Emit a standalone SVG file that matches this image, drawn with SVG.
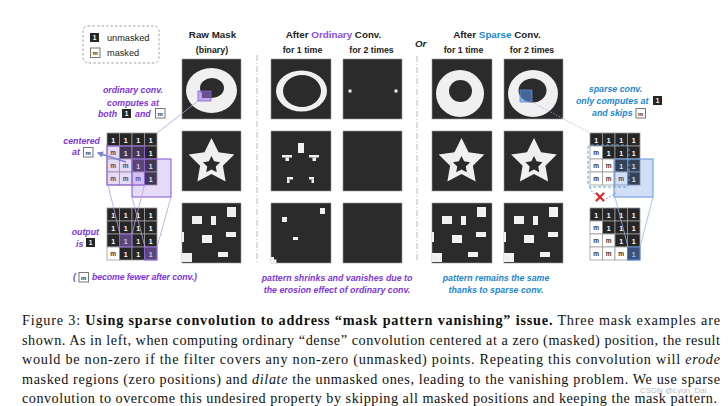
<svg xmlns="http://www.w3.org/2000/svg" xmlns:xlink="http://www.w3.org/1999/xlink" width="728" height="406" viewBox="0 0 728 406">
<style>
.hdr{font-family:"Liberation Sans",Arial,sans-serif;font-weight:bold;font-size:9.8px;fill:#222;text-anchor:middle}
.sub{font-family:"Liberation Sans",Arial,sans-serif;font-weight:bold;font-size:8.8px;fill:#222;text-anchor:middle}
.pl{font-family:"Liberation Sans",Arial,sans-serif;font-style:italic;font-weight:bold;font-size:8.8px;fill:#7b36d9}
.bl{font-family:"Liberation Sans",Arial,sans-serif;font-style:italic;font-weight:bold;font-size:8.8px;fill:#1a86d0}
.leg{font-family:"Liberation Sans",Arial,sans-serif;font-size:9.2px;fill:#222}
.cap{font-family:"Liberation Serif","Times New Roman",serif;font-size:14.2px;fill:#111}
.c1t{font-family:"Liberation Sans",Arial,sans-serif;font-weight:bold;font-size:7px;fill:#fff;text-anchor:middle}
.cmt{font-family:"Liberation Sans",Arial,sans-serif;font-weight:bold;font-size:6.5px;fill:#333;text-anchor:middle}
.panel{fill:#2b2b2b;stroke:#9a9a9a;stroke-width:0.6}
.mask{fill:#f0f0f0}
.dark{fill:#2b2b2b}
.sep{stroke:#bdbdbd;stroke-width:1;stroke-dasharray:6 2 1 2;fill:none}
.pline{stroke:#b89ee9;stroke-width:0.8;fill:none}
.bline{stroke:#93b8ec;stroke-width:0.8;fill:none}
.pov{fill:#9a70e0;fill-opacity:0.25;stroke:#8b5fd6;stroke-width:1.1}
.bov{fill:#5a8de0;fill-opacity:0.28;stroke:#6b9de0;stroke-width:1.1}
</style>
<defs>
<g id="c1"><rect width="12.5" height="13" fill="#262626" stroke="#9a9a9a" stroke-width="0.8"/><text x="6.25" y="9.6" class="c1t">1</text></g>
<g id="cm"><rect width="12.5" height="13" fill="#ffffff" stroke="#9a9a9a" stroke-width="0.8"/><text x="6.25" y="9.2" class="cmt">m</text></g>
<g id="i1"><rect width="9" height="9" fill="#262626"/><text x="4.5" y="7.3" class="c1t" style="font-size:6.5px">1</text></g>
<g id="im"><rect x="0.5" y="0.5" width="9.5" height="9.5" fill="#fff" stroke="#777" stroke-width="1"/><text x="5.25" y="7.6" class="cmt" style="font-size:6px">m</text></g>
<path id="star" class="mask" fill-rule="evenodd" d="M0,-24 L7.06,-9.71 L22.82,-7.42 L11.41,3.71 L14.11,19.42 L0,12 L-14.11,19.42 L-11.41,3.71 L-22.82,-7.42 L-7.06,-9.71 Z M0,-6 L2.65,-0.64 L8.56,0.22 L4.28,4.39 L5.29,10.28 L0,7.5 L-5.29,10.28 L-4.28,4.39 L-8.56,0.22 L-2.65,-0.64 Z"/>
<g id="rects" class="mask">
<rect x="45" y="4" width="9" height="10"/><rect x="10" y="13" width="10" height="8"/><rect x="29" y="13" width="5" height="9"/><rect x="0" y="29" width="2" height="10"/><rect x="20" y="32" width="10" height="8"/><rect x="44" y="29" width="10" height="5"/><rect x="36" y="49" width="10" height="5"/><rect x="0" y="50" width="10" height="9"/>
</g>
<g id="grid">
<use href="#c1" x="0" y="0"/><use href="#c1" x="12.5" y="0"/><use href="#c1" x="25" y="0"/><use href="#c1" x="37.5" y="0"/>
<use href="#cm" x="0" y="13"/><use href="#c1" x="12.5" y="13"/><use href="#c1" x="25" y="13"/><use href="#c1" x="37.5" y="13"/>
<use href="#cm" x="0" y="26"/><use href="#cm" x="12.5" y="26"/><use href="#c1" x="25" y="26"/><use href="#c1" x="37.5" y="26"/>
<use href="#cm" x="0" y="39"/><use href="#cm" x="12.5" y="39"/><use href="#cm" x="25" y="39"/><use href="#c1" x="37.5" y="39"/>
</g>
<marker id="arr" viewBox="0 0 10 10" refX="8" refY="5" markerWidth="4" markerHeight="4" orient="auto"><path d="M0,0 L10,5 L0,10 z" fill="#7d83d6"/></marker>
</defs>

<!-- legend -->
<g id="legend">
<rect x="83" y="26" width="76" height="37" rx="5" fill="none" stroke="#9a9a9a" stroke-width="0.9" stroke-dasharray="2.5 2"/>
<use href="#i1" x="90" y="33"/><text x="107" y="41" class="leg">unmasked</text>
<use href="#im" x="90" y="47.5"/><text x="107" y="55.5" class="leg">masked</text>
</g>

<!-- headers -->
<g id="headers">
<text x="212.5" y="38" class="hdr">Raw Mask</text>
<text x="212" y="53" class="sub">(binary)</text>
<text x="333.5" y="38" class="hdr">After <tspan fill="#8a4de0">Ordinary</tspan> Conv.</text>
<text x="302.5" y="53" class="sub">for 1 time</text>
<text x="371.5" y="53" class="sub">for 2 times</text>
<text x="415" y="47" class="hdr" style="font-style:italic;text-anchor:start">Or</text>
<text x="497" y="38" class="hdr">After <tspan fill="#1a86d0">Sparse</tspan> Conv.</text>
<text x="463.5" y="53" class="sub">for 1 time</text>
<text x="532" y="53" class="sub">for 2 times</text>
</g>

<g id="separators">
<line x1="257" y1="55" x2="257" y2="262" class="sep"/>
<line x1="417" y1="56" x2="417" y2="262" class="sep"/>
</g>

<!-- raw mask -->
<g id="raw-ring">
<rect x="182" y="59" width="59" height="60" class="panel"/>
<ellipse cx="211.5" cy="90.5" rx="25.5" ry="22.5" class="mask"/>
<ellipse cx="212" cy="88" rx="12" ry="10" class="dark"/>
<rect x="202" y="91" width="9" height="7" class="dark"/>
<rect x="198" y="91" width="13" height="10" fill="#9a70e0" fill-opacity="0.55" stroke="#8b5fd6" stroke-width="0.8"/>
</g>
<g id="raw-star">
<rect x="182" y="131" width="59" height="60" class="panel"/>
<use href="#star" x="211.5" y="162"/>
</g>
<g id="raw-rects">
<rect x="182" y="203" width="59" height="60" class="panel"/>
<use href="#rects" x="182" y="203"/>
</g>

<!-- ordinary 1 time -->
<g id="ord1-ring">
<rect x="271" y="59" width="60" height="60" class="panel"/>
<ellipse cx="301.5" cy="91" rx="25.5" ry="20.5" class="mask"/>
<ellipse cx="302" cy="91" rx="19" ry="16" class="dark"/>
</g>
<g id="ord1-star">
<rect x="271" y="131" width="60" height="60" class="panel"/>
<g class="mask">
<rect x="298" y="143" width="6" height="10"/>
<rect x="282" y="155" width="10" height="2.5"/><rect x="285.5" y="157.5" width="3.5" height="3.5"/>
<rect x="309" y="155" width="10" height="2.5"/><rect x="312.5" y="157.5" width="3.5" height="3.5"/>
<rect x="287" y="177" width="6" height="2.5"/><rect x="287" y="179.5" width="2.5" height="3.5"/>
<rect x="309" y="177" width="5" height="2.5"/><rect x="311.5" y="179.5" width="2.5" height="3.5"/>
</g>
</g>
<g id="ord1-rects">
<rect x="271" y="203" width="60" height="60" class="panel"/>
<g class="mask">
<rect x="320" y="208" width="5" height="6"/><rect x="282" y="217" width="5" height="5"/><rect x="293" y="237" width="5" height="3"/>
<path d="M271,257 h3 v2.5 h2.5 v3.5 h-5.5 z"/>
</g>
</g>

<!-- ordinary 2 times -->
<g id="ord2-ring">
<rect x="343" y="59" width="59" height="60" class="panel"/>
<rect x="348.5" y="89.5" width="3" height="3" class="mask"/>
<rect x="394.5" y="89.5" width="3" height="3" class="mask"/>
</g>
<g id="ord2-star"><rect x="343" y="131" width="59" height="60" class="panel"/></g>
<g id="ord2-rects"><rect x="343" y="203" width="59" height="60" class="panel"/></g>

<!-- sparse 1 time -->
<g id="sp1-ring">
<rect x="432" y="59" width="60" height="60" class="panel"/>
<ellipse cx="460" cy="93.5" rx="24" ry="23.5" class="mask"/>
<ellipse cx="460.5" cy="91" rx="11.5" ry="11" class="dark"/>
</g>
<g id="sp1-star">
<rect x="432" y="131" width="60" height="60" class="panel"/>
<use href="#star" x="461.5" y="162"/>
</g>
<g id="sp1-rects">
<rect x="432" y="203" width="60" height="60" class="panel"/>
<use href="#rects" x="432" y="203"/>
</g>

<!-- sparse 2 times -->
<g id="sp2-ring">
<rect x="504" y="59" width="59" height="60" class="panel"/>
<ellipse cx="533" cy="93.5" rx="25" ry="23.5" class="mask"/>
<ellipse cx="532.5" cy="90.5" rx="14" ry="12" class="dark"/>
<rect x="520" y="90" width="12" height="12" fill="#5a8de0" fill-opacity="0.6" stroke="#5b8fd8" stroke-width="0.8"/>
</g>
<g id="sp2-star">
<rect x="504" y="131" width="59" height="60" class="panel"/>
<use href="#star" x="534" y="162"/>
</g>
<g id="sp2-rects">
<rect x="504" y="203" width="59" height="60" class="panel"/>
<use href="#rects" x="504" y="203"/>
</g>

<!-- left grids -->
<g id="left-grid-input">
<use href="#grid" x="107" y="133"/>
<rect x="107" y="146" width="37.5" height="39" class="pov"/>
<rect x="132" y="159" width="39" height="38" class="pov"/>
</g>
<g id="left-grid-output">
<use href="#c1" x="107" y="208"/><use href="#c1" x="119.5" y="208"/><use href="#c1" x="132" y="208"/><use href="#c1" x="144.5" y="208"/>
<use href="#c1" x="107" y="221"/><use href="#c1" x="119.5" y="221"/><use href="#c1" x="132" y="221"/><use href="#c1" x="144.5" y="221"/>
<use href="#c1" x="107" y="234"/><use href="#c1" x="119.5" y="234"/><use href="#c1" x="132" y="234"/><use href="#c1" x="144.5" y="234"/>
<use href="#cm" x="107" y="247"/><use href="#c1" x="119.5" y="247"/><use href="#c1" x="132" y="247"/><use href="#c1" x="144.5" y="247"/>
<rect x="119.5" y="234" width="12.5" height="13" fill="#9a70e0" fill-opacity="0.45" stroke="#8b5fd6" stroke-width="0.9"/>
<rect x="144.5" y="247" width="12.5" height="13" fill="#9a70e0" fill-opacity="0.45" stroke="#8b5fd6" stroke-width="0.9"/>
</g>

<!-- right grids -->
<g id="right-grid-input">
<use href="#grid" x="590" y="133"/>
<rect x="588" y="145" width="41" height="42" rx="3" fill="none" stroke="#5b9be0" stroke-width="1" stroke-dasharray="3 2"/>
<rect x="614" y="159" width="39" height="38" class="bov"/>
</g>
<g id="right-grid-output">
<use href="#grid" x="590" y="208"/>
<rect x="627.5" y="247" width="12.5" height="13" fill="#4a80d8" fill-opacity="0.5" stroke="#4a7fd0" stroke-width="0.9"/>
</g>
<g id="red-x" stroke="#e3242b" stroke-width="2.2" stroke-linecap="round">
<line x1="596.5" y1="193.5" x2="603.5" y2="200.5"/><line x1="603.5" y1="193.5" x2="596.5" y2="200.5"/>
</g>

<!-- connectors -->
<g id="connectors">
<line x1="198" y1="101" x2="157" y2="133" class="pline"/>
<line x1="108" y1="185" x2="120" y2="234" class="pline"/>
<line x1="144.5" y1="185" x2="132" y2="234" class="pline"/>
<line x1="132" y1="197" x2="145" y2="247" class="pline"/>
<line x1="171" y1="197" x2="157" y2="247" class="pline"/>
<line x1="126" y1="162" x2="98" y2="153" stroke="#7d83d6" stroke-width="1.6" marker-end="url(#arr)"/>
<line x1="532" y1="102" x2="590" y2="133" class="bline" stroke-dasharray="1.5 1.5"/>
<path d="M590,187 Q592,193 595,194.5" stroke="#6b9de0" stroke-width="1" fill="none" stroke-dasharray="2 1.5"/>
<path d="M606,199 L616,193" stroke="#6b9de0" stroke-width="1" fill="none" stroke-dasharray="2 1.5"/>
<line x1="615" y1="197" x2="628" y2="247" class="bline"/>
<line x1="653" y1="197" x2="640" y2="247" class="bline"/>
</g>

<!-- annotations -->
<g id="left-labels">
<text x="133" y="93" class="pl" text-anchor="middle">ordinary conv.</text>
<text x="133" y="106" class="pl" text-anchor="middle">computes at</text>
<text x="98" y="117" class="pl">both</text><use href="#i1" x="122" y="109"/>
<text x="135" y="117" class="pl">and</text><use href="#im" x="155" y="108"/>
<text x="100" y="144" class="pl" text-anchor="end">centered</text>
<text x="72" y="155" class="pl">at</text><use href="#im" x="83" y="147"/>
<text x="99" y="235" class="pl" text-anchor="end">output</text>
<text x="76" y="247" class="pl">is</text><use href="#i1" x="86" y="238"/>
<text x="73" y="280" class="pl">(</text><use href="#im" x="78.5" y="272"/><text x="92" y="280" class="pl" textLength="105">become fewer after conv.)</text>
</g>
<g id="mid-labels">
<text x="337" y="281" class="pl" text-anchor="middle">pattern shrinks and vanishes due to</text>
<text x="337" y="292.5" class="pl" text-anchor="middle">the erosion effect of ordinary conv.</text>
<text x="496" y="281" class="bl" text-anchor="middle">pattern remains the same</text>
<text x="496" y="292.5" class="bl" text-anchor="middle">thanks to sparse conv.</text>
</g>
<g id="right-labels">
<text x="615.5" y="92" class="bl" text-anchor="middle">sparse conv.</text>
<text x="576" y="104" class="bl">only computes at</text><use href="#i1" x="653" y="96"/>
<text x="592" y="116" class="bl">and skips</text><use href="#im" x="635.5" y="108"/>
</g>

<!-- caption -->
<g id="caption" class="cap">
<text x="22" y="325" textLength="698" lengthAdjust="spacing">Figure 3: <tspan font-weight="bold">Using sparse convolution to address “mask pattern vanishing” issue.</tspan> Three mask examples are</text>
<text x="22" y="344.5" textLength="698" lengthAdjust="spacing">shown. As in left, when computing ordinary “dense” convolution centered at a zero (masked) position, the result</text>
<text x="22" y="364" textLength="698" lengthAdjust="spacing">would be non-zero if the filter covers any non-zero (unmasked) points. Repeating this convolution will <tspan font-style="italic">erode</tspan></text>
<text x="22" y="383.5" textLength="698" lengthAdjust="spacing">masked regions (zero positions) and <tspan font-style="italic">dilate</tspan> the unmasked ones, leading to the vanishing problem. We use sparse</text>
<text x="22" y="403" textLength="695" lengthAdjust="spacing">convolution to overcome this undesired property by skipping all masked positions and keeping the mask pattern.</text>
</g>
<text x="640" y="392.5" font-family="Liberation Sans, Arial, sans-serif" font-size="8" fill="#9a9a9a" fill-opacity="0.7">CSDN @Lyon_Dai</text>
</svg>
